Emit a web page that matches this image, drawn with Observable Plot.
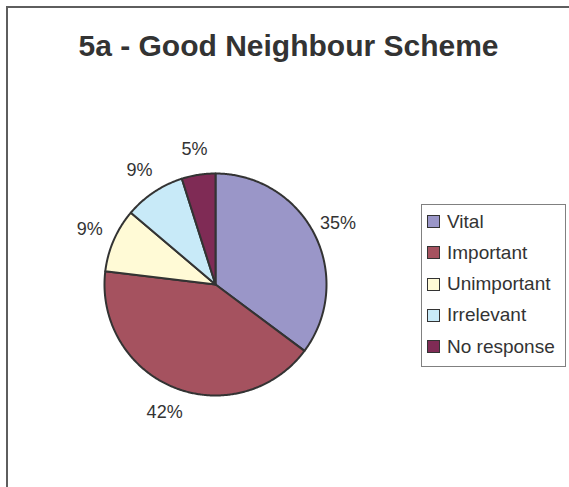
<!DOCTYPE html>
<html><head><meta charset="utf-8">
<script src="https://cdn.jsdelivr.net/npm/d3@7"></script>
<script src="https://cdn.jsdelivr.net/npm/@observablehq/plot@0.6"></script>
<style>
body{margin:0;background:#fff;font-family:"Liberation Sans",Arial,sans-serif;}
#page{position:relative;width:569px;height:487px;overflow:hidden;background:#fff;}
#frame{position:absolute;left:6px;top:6px;width:700px;height:700px;border-top:2px solid #5e5e5e;border-left:2px solid #5e5e5e;}
#chart{position:absolute;left:0;top:0;}
#title{position:absolute;left:0;width:577px;top:31px;line-height:30px;text-align:center;font-weight:bold;font-size:30px;color:#333;white-space:nowrap;}
#legend{position:absolute;left:421px;top:204px;width:143px;height:160px;border:1px solid #808080;padding-top:1px;box-sizing:content-box;background:#fff;}
.row{height:31.25px;display:flex;align-items:center;font-size:19px;color:#333;white-space:nowrap;}
.sw{width:11px;height:11px;border:1px solid #333;margin-left:5px;margin-right:7px;flex:none;}
</style></head>
<body>
<div id="page"><div id="frame"></div><div id="chart"></div><div id="title"></div><div id="legend"></div></div>
<script>
const title = "5a - Good Neighbour Scheme";
const categories = ["Vital", "Important", "Unimportant", "Irrelevant", "No response"];
const values = [35.2, 41.7, 9.3, 8.9, 4.9];
const colors = ["#9a96c8", "#a5525f", "#fffad6", "#c8eaf8", "#7f2b55"];

document.getElementById("title").textContent = title;

const data = categories.map((c, i) => ({category: c, value: values[i]}));
const arcs = d3.pie().sort(null).value(d => d.value)(data);
const total = d3.sum(values);

// slice outlines in unit-radius coordinates (0 angle at 12 o'clock, clockwise)
const pts = [];
arcs.forEach(a => {
  const c = a.data.category;
  const n = Math.max(2, Math.ceil((a.endAngle - a.startAngle) / 0.01));
  pts.push({category: c, x: 0, y: 0});
  for (let i = 0; i <= n; i++) {
    const t = a.startAngle + (a.endAngle - a.startAngle) * i / n;
    pts.push({category: c, x: Math.sin(t), y: Math.cos(t)});
  }
  pts.push({category: c, x: 0, y: 0});
});

const labelR = 1.235;
const labelData = arcs.map(a => {
  const m = (a.startAngle + a.endAngle) / 2;
  return {x: labelR * Math.sin(m), y: labelR * Math.cos(m), text: Math.round(a.data.value / total * 100) + "%"};
});

// layout: pie centre at (215,284), radius 111 px
const W = 569, H = 487, cx = 215, cy = 284, R = 111;
const chart = Plot.plot({
  width: W, height: H, margin: 0,
  style: {background: "none", fontFamily: "Liberation Sans, Arial, sans-serif"},
  x: {domain: [-cx / R, (W - cx) / R], axis: null},
  y: {domain: [-(H - cy) / R, cy / R], axis: null},
  color: {domain: categories, range: colors},
  marks: [
    Plot.line(pts, {x: "x", y: "y", z: "category", fill: "category", stroke: "#333", strokeWidth: 2, strokeLinejoin: "round", curve: "linear"}),
    Plot.text(labelData, {x: "x", y: "y", text: "text", fontSize: 18, fill: "#333"})
  ]
});
document.getElementById("chart").appendChild(chart);

const legend = document.getElementById("legend");
categories.forEach((c, i) => {
  const row = document.createElement("div");
  row.className = "row";
  const sw = document.createElement("span");
  sw.className = "sw";
  sw.style.background = colors[i];
  const tx = document.createElement("span");
  tx.textContent = c;
  row.appendChild(sw); row.appendChild(tx);
  legend.appendChild(row);
});
</script>
</body></html>
